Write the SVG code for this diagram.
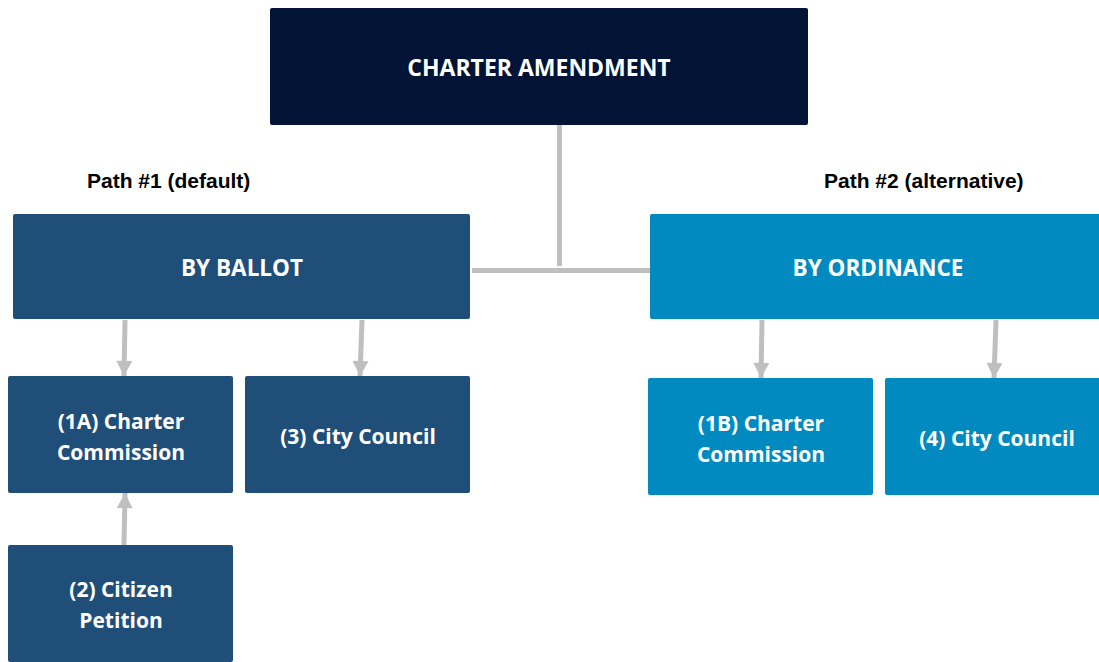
<svg xmlns="http://www.w3.org/2000/svg" width="1099" height="662" viewBox="0 0 1099 662">
<style>
.lbl{font-family:"Open Sans","Noto Sans",sans-serif;font-weight:bold;fill:#fff;text-anchor:middle}
.top{font-size:23px}
.big{font-size:22.5px}
.mid{font-size:21px}
.hdr{font-family:"Liberation Sans",Arial,sans-serif;font-weight:bold;font-size:21px;fill:#000}
.dark{fill:#1f4e79}
.light{fill:#018abf}
.conn{stroke:#bfbfbf;stroke-width:5;fill:none}
</style>
<defs>
<marker id="ah" markerUnits="userSpaceOnUse" markerWidth="18" markerHeight="16" refX="16" refY="8.5" orient="auto" viewBox="0 0 18 17">
<path d="M0,0 L16,8.5 L0,17 Z" fill="#bfbfbf"/>
</marker>
</defs>
<rect width="1099" height="662" fill="#fff"/>
<g id="connectors">
<line class="conn" x1="559.5" y1="125" x2="559.5" y2="266"/>
<line class="conn" x1="472" y1="270.5" x2="650" y2="270.5"/>
<line class="conn" x1="125" y1="320" x2="124" y2="376" marker-end="url(#ah)"/>
<line class="conn" x1="362" y1="320" x2="360" y2="376" marker-end="url(#ah)"/>
<line class="conn" x1="124" y1="545" x2="125" y2="493" marker-end="url(#ah)"/>
<line class="conn" x1="762" y1="320" x2="761" y2="378" marker-end="url(#ah)"/>
<line class="conn" x1="996" y1="320" x2="994" y2="378" marker-end="url(#ah)"/>
</g>
<g id="charter-amendment">
<rect x="270" y="8" width="538" height="117" rx="2" fill="#011435"/>
<text class="lbl top" x="539" y="76">CHARTER AMENDMENT</text>
</g>
<g id="path1-label"><text class="hdr" x="87" y="188">Path #1 (default)</text></g>
<g id="path2-label"><text class="hdr" x="824" y="188">Path #2 (alternative)</text></g>
<g id="by-ballot">
<rect class="dark" x="13" y="214" width="457" height="105" rx="2"/>
<text class="lbl big" x="242" y="276">BY BALLOT</text>
</g>
<g id="by-ordinance">
<rect class="light" x="650" y="214" width="455" height="105" rx="2"/>
<text class="lbl big" x="878" y="276">BY ORDINANCE</text>
</g>
<g id="charter-commission-1a">
<rect class="dark" x="8" y="376" width="225" height="117" rx="2"/>
<text class="lbl mid" x="121" y="429">(1A) Charter</text>
<text class="lbl mid" x="121" y="460">Commission</text>
</g>
<g id="city-council-3">
<rect class="dark" x="245" y="376" width="225" height="117" rx="2"/>
<text class="lbl mid" x="358" y="444">(3) City Council</text>
</g>
<g id="citizen-petition-2">
<rect class="dark" x="8" y="545" width="225" height="117" rx="2"/>
<text class="lbl mid" x="121" y="597">(2) Citizen</text>
<text class="lbl mid" x="121" y="628">Petition</text>
</g>
<g id="charter-commission-1b">
<rect class="light" x="648" y="378" width="225" height="117" rx="2"/>
<text class="lbl mid" x="761" y="431">(1B) Charter</text>
<text class="lbl mid" x="761" y="462">Commission</text>
</g>
<g id="city-council-4">
<rect class="light" x="885" y="378" width="225" height="117" rx="2"/>
<text class="lbl mid" x="997" y="446">(4) City Council</text>
</g>
</svg>
